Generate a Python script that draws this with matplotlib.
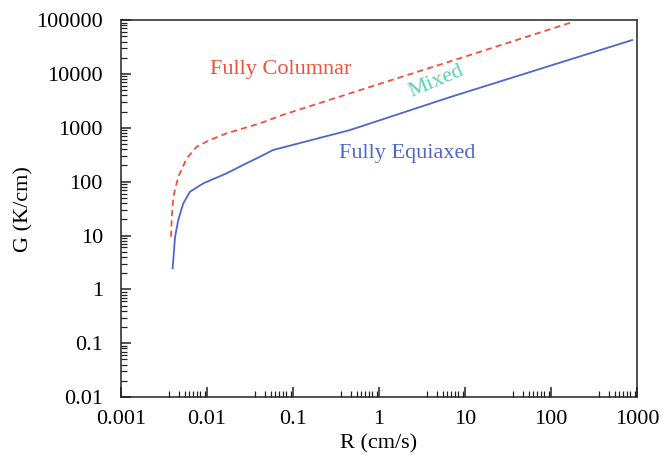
import matplotlib
matplotlib.use("Agg")
import matplotlib.pyplot as plt
import matplotlib.ticker as mtick

# Data (R in cm/s, G in K/cm)
columnar_R = [0.00381, 0.00389, 0.00406, 0.00463, 0.00581, 0.00759, 0.0108,
              0.0169, 0.0413, 0.0766, 0.460, 1.0, 6.70, 166]
columnar_G = [9.5, 22.4, 52.7, 124, 272, 446, 594, 791, 1210, 1750, 4370,
              6500, 17100, 89000]

equiaxed_R = [0.00398, 0.00425, 0.00463, 0.0053, 0.00634, 0.00906, 0.0169,
              0.0262, 0.0413, 0.0585, 0.460, 6.70, 875]
equiaxed_G = [2.47, 9.5, 19.5, 39.7, 65.2, 93.3, 143, 204, 291, 387, 910,
              3720, 42600]

x_ticks = [0.001, 0.01, 0.1, 1, 10, 100, 1000]
x_labels = ["0.001", "0.01", "0.1", "1", "10", "100", "1000"]
y_ticks = [0.01, 0.1, 1, 10, 100, 1000, 10000, 100000]
y_labels = ["0.01", "0.1", "1", "10", "100", "1000", "10000", "100000"]

RED = "#f0503c"
BLUE = "#4f66cc"
TEAL = "#5cd3a8"

plt.rcParams["font.family"] = ["Liberation Serif", "DejaVu Serif"]
plt.rcParams["font.size"] = 16

fig = plt.figure(figsize=(6.65, 4.57), dpi=100)
ax = fig.add_axes([0.182, 0.131, 0.776, 0.825])

ax.plot(columnar_R, columnar_G, color=RED, lw=1.3, ls=(0, (3.4, 2.3)))
ax.plot(equiaxed_R, equiaxed_G, color=BLUE, lw=1.3)

ax.set_xscale("log")
ax.set_yscale("log")
ax.set_xlim(0.001, 1000)
ax.set_ylim(0.01, 100000)

ax.set_xticks(x_ticks)
ax.set_xticklabels(x_labels)
ax.set_yticks(y_ticks)
ax.set_yticklabels(y_labels)
ax.xaxis.set_minor_locator(mtick.LogLocator(base=10, subs=[3.65, 4.76, 5.55, 6.2, 6.9, 7.6, 8.3, 9.5], numticks=20))
ax.yaxis.set_minor_locator(mtick.LogLocator(base=10, subs=range(2, 10), numticks=20))
ax.xaxis.set_minor_formatter(mtick.NullFormatter())
ax.yaxis.set_minor_formatter(mtick.NullFormatter())

ax.tick_params(which="both", direction="in", top=False, right=False, color="#222222")
ax.tick_params(which="major", length=7, width=1.1)
ax.tick_params(which="minor", length=4, width=0.9)
ax.tick_params(axis="y", which="major", pad=13)
ax.tick_params(axis="x", which="major", pad=9)
for s in ax.spines.values():
    s.set_linewidth(1.1)
    s.set_color("#222222")

ax.text(0.072, 12300, "Fully Columnar", color=RED, ha="center", va="center")
ax.text(4.6, 7100, "Mixed", color=TEAL, ha="center", va="center", rotation=23)
ax.text(2.12, 327, "Fully Equiaxed", color=BLUE, ha="center", va="center")

ax.set_xlabel("R (cm/s)", labelpad=4)
ax.set_ylabel("G (K/cm)", labelpad=2)

fig.savefig("out.png", dpi=100)
